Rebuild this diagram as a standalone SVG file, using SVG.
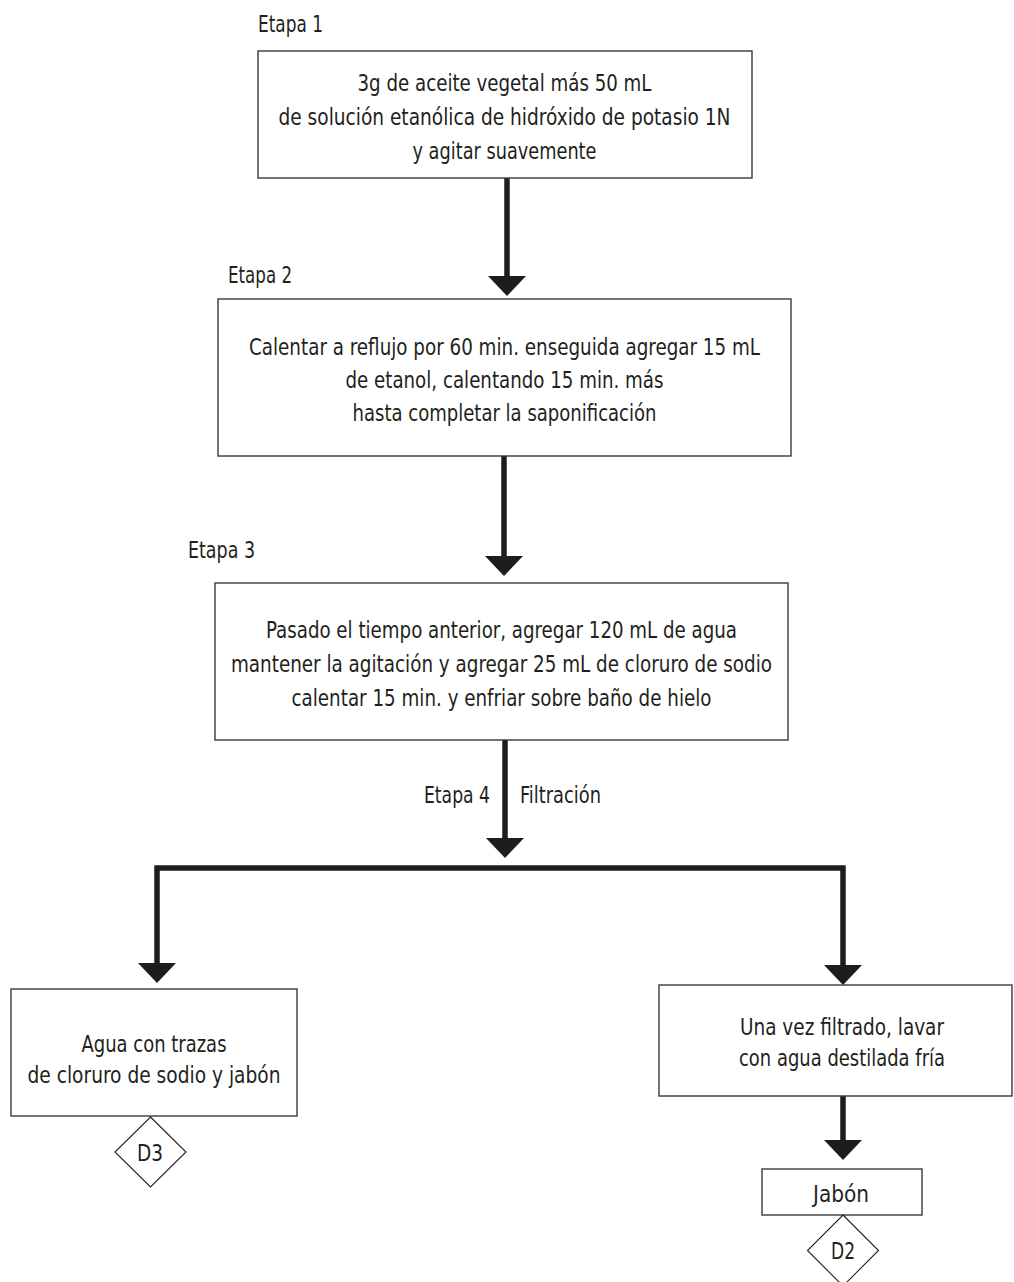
<svg xmlns="http://www.w3.org/2000/svg" width="1014" height="1282" viewBox="0 0 1014 1282">
  <style>
    .box { fill: #ffffff; stroke: #3a3a3a; stroke-width: 1.4; }
    .dia { fill: #ffffff; stroke: #231f20; stroke-width: 1.1; }
    .t { font-family: "Liberation Sans Narrow", "DejaVu Sans Condensed", "Liberation Sans", sans-serif; font-size: 23.5px; fill: #231f20; }
    .c { text-anchor: middle; }
    .e { text-anchor: end; }
    .flow { fill: none; stroke: #1f1c1d; stroke-width: 5.5; stroke-linecap: butt; stroke-linejoin: miter; marker-end: url(#head); }
  </style>
  <defs>
    <marker id="head" markerUnits="userSpaceOnUse" markerWidth="20" markerHeight="38" viewBox="0 0 20 38" refX="0" refY="19" orient="auto">
      <path d="M0,0 L20,19 L0,38 Z" fill="#1f1c1d"/>
    </marker>
  </defs>

  <!-- stage labels -->
  <g id="stage-labels">
    <text class="t" x="258" y="32" textLength="65" lengthAdjust="spacingAndGlyphs">Etapa 1</text>
    <text class="t" x="228" y="283" textLength="64" lengthAdjust="spacingAndGlyphs">Etapa 2</text>
    <text class="t" x="188" y="558" textLength="67" lengthAdjust="spacingAndGlyphs">Etapa 3</text>
    <text class="t" x="424" y="803" textLength="66" lengthAdjust="spacingAndGlyphs">Etapa 4</text>
    <text class="t" x="520" y="803" textLength="81" lengthAdjust="spacingAndGlyphs">Filtración</text>
  </g>

  <!-- connectors -->
  <g id="connectors">
    <path class="flow" d="M507,178 V276"/>
    <path class="flow" d="M504,456 V556"/>
    <path class="flow" d="M505,740 V838"/>
    <path class="flow" d="M505,868 H157 V963"/>
    <path class="flow" d="M505,868 H843 V965"/>
    <path class="flow" d="M843,1096 V1140"/>
  </g>

  <g id="node-step1">
    <rect class="box" x="258" y="51" width="494" height="127"/>
    <text class="t c" x="504.5" y="91" textLength="294" lengthAdjust="spacingAndGlyphs">3g de aceite vegetal más 50 mL</text>
    <text class="t c" x="504.5" y="125" textLength="452" lengthAdjust="spacingAndGlyphs">de solución etanólica de hidróxido de potasio 1N</text>
    <text class="t c" x="504.5" y="159" textLength="184" lengthAdjust="spacingAndGlyphs">y agitar suavemente</text>
  </g>

  <g id="node-step2">
    <rect class="box" x="218" y="299" width="573" height="157"/>
    <text class="t c" x="504.5" y="355" textLength="511" lengthAdjust="spacingAndGlyphs">Calentar a reflujo por 60 min. enseguida agregar 15 mL</text>
    <text class="t c" x="504.5" y="388" textLength="318" lengthAdjust="spacingAndGlyphs">de etanol, calentando 15 min. más</text>
    <text class="t c" x="504.5" y="421" textLength="304" lengthAdjust="spacingAndGlyphs">hasta completar la saponificación</text>
  </g>

  <g id="node-step3">
    <rect class="box" x="215" y="583" width="573" height="157"/>
    <text class="t c" x="501.5" y="638" textLength="471" lengthAdjust="spacingAndGlyphs">Pasado el tiempo anterior, agregar 120 mL de agua</text>
    <text class="t c" x="501.5" y="672" textLength="541" lengthAdjust="spacingAndGlyphs">mantener la agitación y agregar 25 mL de cloruro de sodio</text>
    <text class="t c" x="501.5" y="706" textLength="420" lengthAdjust="spacingAndGlyphs">calentar 15 min. y enfriar sobre baño de hielo</text>
  </g>

  <g id="node-filtrate">
    <rect class="box" x="11" y="989" width="286" height="127"/>
    <text class="t c" x="154" y="1052" textLength="145" lengthAdjust="spacingAndGlyphs">Agua con trazas</text>
    <text class="t c" x="154" y="1083" textLength="253" lengthAdjust="spacingAndGlyphs">de cloruro de sodio y jabón</text>
  </g>

  <g id="node-d3">
    <polygon class="dia" points="150.5,1117 186,1152 150.5,1187 115,1152"/>
    <text class="t c" x="150" y="1161" textLength="26" lengthAdjust="spacingAndGlyphs">D3</text>
  </g>

  <g id="node-wash">
    <rect class="box" x="659" y="985" width="353" height="111"/>
    <text class="t c" x="842" y="1035" textLength="204" lengthAdjust="spacingAndGlyphs">Una vez filtrado, lavar</text>
    <text class="t c" x="842" y="1066" textLength="206" lengthAdjust="spacingAndGlyphs">con agua destilada fría</text>
  </g>

  <g id="node-soap">
    <rect class="box" x="762" y="1169" width="160" height="46"/>
    <text class="t c" x="841" y="1202" textLength="56" lengthAdjust="spacingAndGlyphs">Jabón</text>
  </g>

  <g id="node-d2">
    <polygon class="dia" points="843,1215 878.5,1250.5 843,1286 807.5,1250.5"/>
    <text class="t c" x="843" y="1259" textLength="24" lengthAdjust="spacingAndGlyphs">D2</text>
  </g>
</svg>
